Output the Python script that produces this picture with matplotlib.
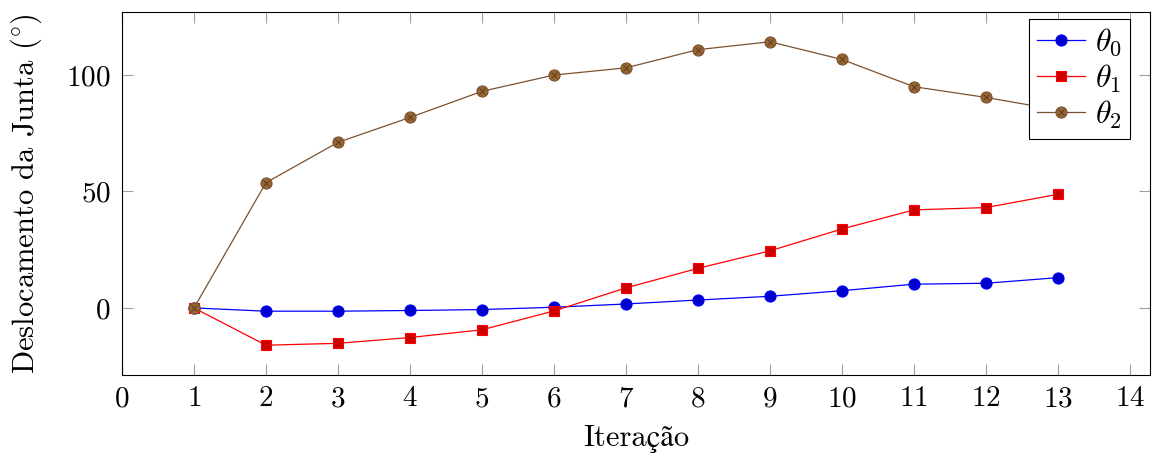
# Joint displacement per iteration for three joints

import numpy as np
import matplotlib.pyplot as plt
from matplotlib.legend_handler import HandlerTuple

plt.rcParams['font.family'] = ['cmr10', 'STIXGeneral']
plt.rcParams['mathtext.fontset'] = 'cm'
plt.rcParams['axes.formatter.use_mathtext'] = True
plt.rcParams['axes.unicode_minus'] = False

iteracoes = [1, 2, 3, 4, 5, 6, 7, 8, 9, 10, 11, 12, 13]
theta0 = [0, -1.4, -1.4, -1.1, -0.7, 0.3, 1.7, 3.4, 5.0, 7.4, 10.2, 10.6, 13.0]
theta1 = [0, -16.0, -15.2, -12.7, -9.4, -1.3, 8.6, 17.0, 24.5, 33.9, 42.1, 43.1, 48.8]
theta2 = [0, 53.8, 71.1, 81.8, 93.0, 100.0, 103.1, 110.9, 114.3, 106.7, 95.0, 90.4, 85.0]

xticks = list(range(0, 15))
yticks = [0, 50, 100]

fig = plt.figure(figsize=(11.52, 4.54), dpi=100)
ax = fig.add_axes([0.1059, 0.174, 0.8924, 0.8002])

l0, = ax.plot(iteracoes, theta0, color='#0000ff', lw=0.9, marker='o', ms=8,
              mfc='#0000cc', mec='#0000ff', mew=0.8)
l1, = ax.plot(iteracoes, theta1, color='#ff0000', lw=0.9, marker='s', ms=7.5,
              mfc='#cc0000', mec='#ff0000', mew=0.8)
l2, = ax.plot(iteracoes, theta2, color='#7a5230', lw=0.9, marker='o', ms=8,
              mfc='#996633', mec='#7a5230', mew=0.8)
# cross inside the brown circles (otimes style)
l2x, = ax.plot(iteracoes, theta2, ls='none', marker='x', ms=5,
               mec='#5a3a1e', mew=0.7)

ax.set_xlim(0, 14.28)
ax.set_ylim(-28.8, 127.2)
ax.set_xticks(xticks)
ax.set_yticks(yticks)
ax.tick_params(direction='in', length=8, width=0.8, color='#a0a0a0',
               top=True, right=True, labelsize=21, pad=8)
for s in ax.spines.values():
    s.set_linewidth(0.8)

ax.set_xlabel('Iteração', fontsize=22, labelpad=9)
ax.set_ylabel(r'Deslocamento da Junta $(^{\circ})$', fontsize=22, labelpad=16)

leg = ax.legend([l0, l1, (l2, l2x)], [r'$\theta_0$', r'$\theta_1$', r'$\theta_2$'],
                handler_map={tuple: HandlerTuple(ndivide=1, pad=0)},
                loc='upper right', fontsize=23, fancybox=False, framealpha=1,
                edgecolor='black', borderpad=0.25, handlelength=1.5,
                handletextpad=0.3, labelspacing=0.12,
                bbox_to_anchor=(0.9805, 0.9807), borderaxespad=0)
leg.get_frame().set_linewidth(0.8)

fig.savefig('out.png', dpi=100)
